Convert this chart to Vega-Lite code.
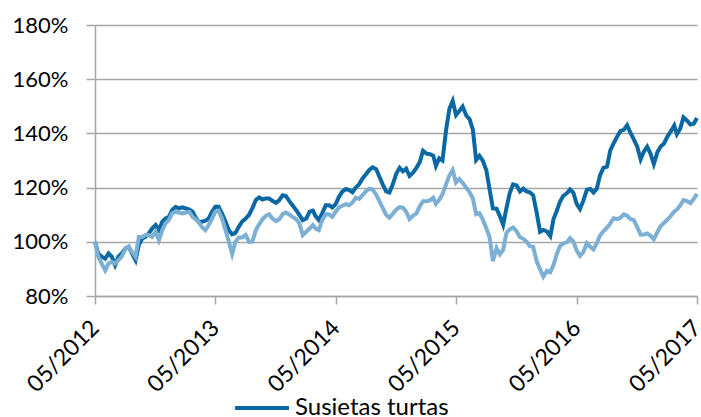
{
"$schema": "https://vega.github.io/schema/vega-lite/v6.json",
"width": 602, "height": 271,
"autosize": {"type": "none"},
"padding": {"left": 95, "top": 25, "right": 4, "bottom": 121},
"background": "white",
"config": {"view": {"stroke": null}, "font": "Lato"},
"data": {"values": [
{"t":"2012-05-01","a":100,"b":100},
{"t":"2012-05-11","a":95.7,"b":94.5},
{"t":"2012-05-21","a":94.5,"b":92.0},
{"t":"2012-06-01","a":93.8,"b":89.5},
{"t":"2012-06-11","a":95.7,"b":92.0},
{"t":"2012-06-21","a":94.5,"b":92.6},
{"t":"2012-07-01","a":91.4,"b":92.0},
{"t":"2012-07-11","a":94.5,"b":93.2},
{"t":"2012-07-21","a":95.7,"b":94.5},
{"t":"2012-08-01","a":97.5,"b":97.5},
{"t":"2012-08-11","a":98.2,"b":98.2},
{"t":"2012-08-21","a":95.7,"b":96.3},
{"t":"2012-09-01","a":93.2,"b":94.5},
{"t":"2012-09-11","a":98.8,"b":101.8},
{"t":"2012-09-21","a":101.2,"b":101.8},
{"t":"2012-10-01","a":101.8,"b":102.5},
{"t":"2012-10-11","a":103.1,"b":102.5},
{"t":"2012-10-21","a":104.9,"b":101.8},
{"t":"2012-11-01","a":106.2,"b":103.7},
{"t":"2012-11-11","a":104.3,"b":100.6},
{"t":"2012-11-21","a":107.4,"b":104.3},
{"t":"2012-12-01","a":108.6,"b":106.8},
{"t":"2012-12-11","a":109.2,"b":108.0},
{"t":"2012-12-21","a":111.7,"b":110.5},
{"t":"2013-01-01","a":112.9,"b":111.1},
{"t":"2013-01-11","a":112.3,"b":110.7},
{"t":"2013-01-21","a":112.7,"b":110.5},
{"t":"2013-02-01","a":112.3,"b":110.8},
{"t":"2013-02-11","a":111.9,"b":111.0},
{"t":"2013-02-21","a":111.1,"b":109.2},
{"t":"2013-03-01","a":109.2,"b":108.4},
{"t":"2013-03-11","a":107.4,"b":107.4},
{"t":"2013-03-21","a":107.4,"b":105.5},
{"t":"2013-04-01","a":107.8,"b":104.3},
{"t":"2013-04-11","a":108.6,"b":106.2},
{"t":"2013-04-21","a":111.1,"b":108.6},
{"t":"2013-05-01","a":112.9,"b":111.1},
{"t":"2013-05-11","a":112.9,"b":111.5},
{"t":"2013-05-21","a":110.5,"b":108.6},
{"t":"2013-06-01","a":107.4,"b":104.3},
{"t":"2013-06-11","a":104.3,"b":100.0},
{"t":"2013-06-21","a":102.8,"b":95.5},
{"t":"2013-07-01","a":103.3,"b":100.0},
{"t":"2013-07-11","a":105.5,"b":101.6},
{"t":"2013-07-21","a":107.4,"b":101.6},
{"t":"2013-08-01","a":108.6,"b":102.5},
{"t":"2013-08-11","a":109.9,"b":100.0},
{"t":"2013-08-21","a":112.3,"b":100.0},
{"t":"2013-09-01","a":115.4,"b":104.3},
{"t":"2013-09-11","a":116.4,"b":106.5},
{"t":"2013-09-21","a":115.6,"b":108.3},
{"t":"2013-10-01","a":116.0,"b":109.6},
{"t":"2013-10-11","a":116.0,"b":110.2},
{"t":"2013-10-21","a":115.1,"b":108.6},
{"t":"2013-11-01","a":114.4,"b":107.6},
{"t":"2013-11-11","a":115.4,"b":108.3},
{"t":"2013-11-21","a":117.2,"b":110.2},
{"t":"2013-12-01","a":116.9,"b":110.8},
{"t":"2013-12-11","a":115.1,"b":110.1},
{"t":"2013-12-21","a":113.5,"b":109.2},
{"t":"2014-01-01","a":111.7,"b":108.4},
{"t":"2014-01-11","a":109.9,"b":106.8},
{"t":"2014-01-21","a":108.0,"b":102.5},
{"t":"2014-02-01","a":108.6,"b":103.7},
{"t":"2014-02-11","a":111.1,"b":104.9},
{"t":"2014-02-21","a":111.5,"b":106.2},
{"t":"2014-03-01","a":109.5,"b":104.9},
{"t":"2014-03-11","a":108.0,"b":104.3},
{"t":"2014-03-21","a":110.5,"b":108.0},
{"t":"2014-04-01","a":113.5,"b":110.2},
{"t":"2014-04-11","a":113.5,"b":110.1},
{"t":"2014-04-21","a":112.7,"b":109.2},
{"t":"2014-05-01","a":113.9,"b":111.1},
{"t":"2014-05-11","a":116.6,"b":112.7},
{"t":"2014-05-21","a":118.5,"b":113.3},
{"t":"2014-06-01","a":119.5,"b":113.9},
{"t":"2014-06-11","a":119.1,"b":113.5},
{"t":"2014-06-21","a":118.3,"b":114.5},
{"t":"2014-07-01","a":120.0,"b":116.3},
{"t":"2014-07-11","a":121.2,"b":115.8},
{"t":"2014-07-21","a":123.3,"b":117.1},
{"t":"2014-08-01","a":124.9,"b":118.7},
{"t":"2014-08-11","a":126.5,"b":119.6},
{"t":"2014-08-21","a":127.5,"b":119.3},
{"t":"2014-09-01","a":126.8,"b":117.4},
{"t":"2014-09-11","a":123.9,"b":114.9},
{"t":"2014-09-21","a":121.1,"b":112.4},
{"t":"2014-10-01","a":118.6,"b":110.0},
{"t":"2014-10-11","a":118.2,"b":108.9},
{"t":"2014-10-21","a":121.1,"b":110.3},
{"t":"2014-11-01","a":125.2,"b":111.9},
{"t":"2014-11-11","a":127.3,"b":112.8},
{"t":"2014-11-21","a":126.0,"b":112.6},
{"t":"2014-12-01","a":127.0,"b":111.1},
{"t":"2014-12-11","a":124.3,"b":108.4},
{"t":"2014-12-21","a":125.4,"b":109.6},
{"t":"2015-01-01","a":127.3,"b":110.5},
{"t":"2015-01-11","a":129.4,"b":113.1},
{"t":"2015-01-21","a":133.6,"b":115.0},
{"t":"2015-02-01","a":132.5,"b":115.0},
{"t":"2015-02-11","a":132.3,"b":115.3},
{"t":"2015-02-21","a":131.8,"b":116.3},
{"t":"2015-03-01","a":128.0,"b":114.0},
{"t":"2015-03-11","a":130.8,"b":115.5},
{"t":"2015-03-21","a":130.0,"b":117.5},
{"t":"2015-04-01","a":141.3,"b":121.3},
{"t":"2015-04-11","a":149.1,"b":124.5},
{"t":"2015-04-21","a":152.0,"b":126.5},
{"t":"2015-05-01","a":146.8,"b":121.9},
{"t":"2015-05-11","a":148.3,"b":123.2},
{"t":"2015-05-21","a":149.9,"b":121.8},
{"t":"2015-06-01","a":146.6,"b":120.0},
{"t":"2015-06-11","a":145.3,"b":118.3},
{"t":"2015-06-21","a":141.5,"b":116.1},
{"t":"2015-07-01","a":130.2,"b":110.2},
{"t":"2015-07-11","a":131.7,"b":110.6},
{"t":"2015-07-21","a":130.0,"b":108.3},
{"t":"2015-08-01","a":126.4,"b":105.0},
{"t":"2015-08-11","a":119.2,"b":101.7},
{"t":"2015-08-21","a":112.3,"b":92.8},
{"t":"2015-09-01","a":112.2,"b":97.7},
{"t":"2015-09-11","a":109.5,"b":95.4},
{"t":"2015-09-21","a":106.3,"b":97.0},
{"t":"2015-10-01","a":112.4,"b":103.3},
{"t":"2015-10-11","a":118.0,"b":104.6},
{"t":"2015-10-21","a":121.2,"b":105.3},
{"t":"2015-11-01","a":120.8,"b":103.8},
{"t":"2015-11-11","a":118.6,"b":101.7},
{"t":"2015-11-21","a":119.6,"b":101.1},
{"t":"2015-12-01","a":118.6,"b":100.1},
{"t":"2015-12-11","a":118.3,"b":98.4},
{"t":"2015-12-21","a":117.2,"b":98.2},
{"t":"2016-01-01","a":110.6,"b":92.7},
{"t":"2016-01-11","a":103.7,"b":89.9},
{"t":"2016-01-21","a":104.4,"b":87.1},
{"t":"2016-02-01","a":103.8,"b":89.3},
{"t":"2016-02-11","a":102.1,"b":88.8},
{"t":"2016-02-21","a":108.5,"b":91.5},
{"t":"2016-03-01","a":111.2,"b":95.2},
{"t":"2016-03-11","a":114.7,"b":98.4},
{"t":"2016-03-21","a":116.9,"b":99.4},
{"t":"2016-04-01","a":117.9,"b":99.8},
{"t":"2016-04-11","a":119.3,"b":101.4},
{"t":"2016-04-21","a":118.1,"b":100.1},
{"t":"2016-05-01","a":114.0,"b":96.8},
{"t":"2016-05-11","a":112.1,"b":94.8},
{"t":"2016-05-21","a":115.1,"b":96.2},
{"t":"2016-06-01","a":119.2,"b":99.5},
{"t":"2016-06-11","a":119.5,"b":98.2},
{"t":"2016-06-21","a":118.2,"b":97.2},
{"t":"2016-07-01","a":119.6,"b":99.5},
{"t":"2016-07-11","a":124.6,"b":102.3},
{"t":"2016-07-21","a":127.3,"b":103.9},
{"t":"2016-08-01","a":127.7,"b":105.2},
{"t":"2016-08-11","a":133.7,"b":106.8},
{"t":"2016-08-21","a":136.3,"b":108.7},
{"t":"2016-09-01","a":138.9,"b":108.4},
{"t":"2016-09-11","a":140.9,"b":108.9},
{"t":"2016-09-21","a":141.3,"b":110.1},
{"t":"2016-10-01","a":143.0,"b":109.6},
{"t":"2016-10-11","a":140.3,"b":108.4},
{"t":"2016-10-21","a":137.9,"b":108.0},
{"t":"2016-11-01","a":135.0,"b":105.4},
{"t":"2016-11-11","a":130.4,"b":102.6},
{"t":"2016-11-21","a":133.3,"b":102.7},
{"t":"2016-12-01","a":135.1,"b":103.1},
{"t":"2016-12-11","a":132.5,"b":102.2},
{"t":"2016-12-21","a":128.7,"b":100.9},
{"t":"2017-01-01","a":133.1,"b":103.6},
{"t":"2017-01-11","a":135.2,"b":105.8},
{"t":"2017-01-21","a":136.3,"b":107.0},
{"t":"2017-02-01","a":139.0,"b":108.3},
{"t":"2017-02-11","a":140.8,"b":109.6},
{"t":"2017-02-21","a":142.9,"b":111.2},
{"t":"2017-03-01","a":139.7,"b":111.9},
{"t":"2017-03-11","a":141.7,"b":113.4},
{"t":"2017-03-21","a":145.9,"b":115.4},
{"t":"2017-04-01","a":144.7,"b":115.0},
{"t":"2017-04-11","a":143.3,"b":114.3},
{"t":"2017-04-21","a":143.6,"b":115.8},
{"t":"2017-05-01","a":145.7,"b":117.7}
]},
"encoding": {
  "x": {"field": "t", "type": "temporal",
    "scale": {"type": "utc", "domain": [{"year": 2012, "month": 5, "date": 1, "utc": true}, {"year": 2017, "month": 5, "date": 1, "utc": true}]},
    "axis": {"title": null, "grid": false,
      "values": [{"year": 2012, "month": 5, "date": 1, "utc": true}, {"year": 2013, "month": 5, "date": 1, "utc": true}, {"year": 2014, "month": 5, "date": 1, "utc": true}, {"year": 2015, "month": 5, "date": 1, "utc": true}, {"year": 2016, "month": 5, "date": 1, "utc": true}, {"year": 2017, "month": 5, "date": 1, "utc": true}],
      "labelExpr": "utcFormat(datum.value, '%m/%Y')",
      "labelAngle": -45, "labelAlign": "right", "labelBaseline": "middle",
      "labelFont": "Lato", "labelFontSize": 23, "labelColor": "#000000", "labelPadding": 20,
      "labelOverlap": false, "labelBound": false, "labelFlush": false,
      "domainColor": "#a6a6a6", "domainWidth": 1.5, "tickColor": "#a6a6a6", "tickWidth": 1.5, "tickSize": 8}
  }
},
"layer": [
  {"mark": {"type": "line", "strokeWidth": 4, "interpolate": "linear"},
   "encoding": {
     "y": {"field": "a", "type": "quantitative",
       "scale": {"domain": [80, 180], "nice": false, "zero": false},
       "axis": {"title": null, "values": [80, 100, 120, 140, 160, 180], "labelExpr": "datum.value + '%'",
         "grid": true, "gridColor": "#a6a6a6", "gridWidth": 1.5,
         "domainColor": "#a6a6a6", "domainWidth": 1.5, "tickColor": "#a6a6a6", "tickWidth": 1.5, "tickSize": 9,
         "labelFont": "Lato", "labelFontSize": 22, "labelColor": "#000000", "labelPadding": 18}},
     "color": {"datum": "Susietas turtas",
       "scale": {"domain": ["Susietas turtas", "Lyginamasis indeksas"], "range": ["#0a69a4", "#7cafd4"]},
       "legend": {"title": null, "values": ["Susietas turtas"], "orient": "none", "legendX": 138, "legendY": 354,
         "symbolType": "stroke", "symbolSize": 2916, "symbolStrokeWidth": 4, "symbolStrokeColor": "#0a69a4",
         "labelFont": "Lato", "labelFontSize": 24, "labelColor": "#000000", "labelOffset": 4}}
   }},
  {"mark": {"type": "line", "strokeWidth": 4, "interpolate": "linear"},
   "encoding": {
     "y": {"field": "b", "type": "quantitative"},
     "color": {"datum": "Lyginamasis indeksas"}
   }}
]
}
